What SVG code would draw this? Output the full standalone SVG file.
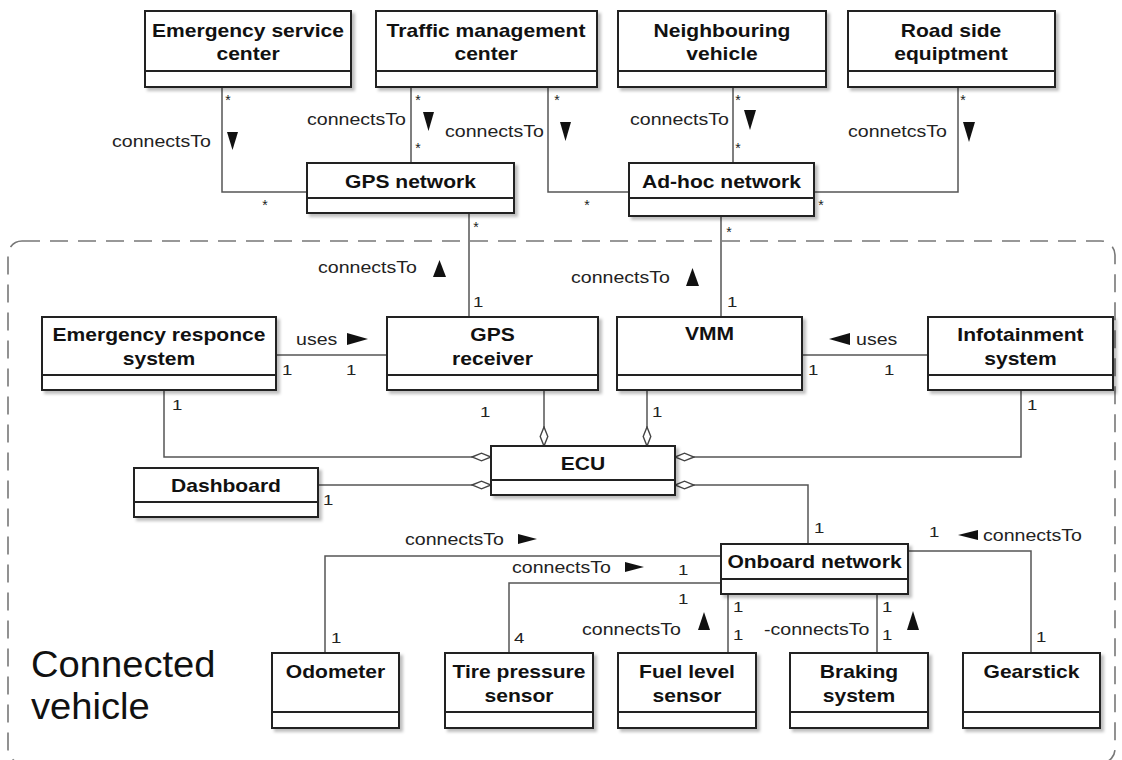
<svg xmlns="http://www.w3.org/2000/svg" width="1122" height="760" viewBox="0 0 1122 760">
  <defs>
    <filter id="sh" x="-5%" y="-5%" width="115%" height="130%">
      <feDropShadow dx="3" dy="3" stdDeviation="1.5" flood-color="#000" flood-opacity="0.25"/>
    </filter>
    <!-- hollow aggregation diamond, tip on the whole side -->
    <marker id="agg" markerUnits="userSpaceOnUse" viewBox="0 0 22 10" markerWidth="22" markerHeight="10" refX="20" refY="5" orient="auto">
      <path d="M1,5 L10.5,1.2 L20,5 L10.5,8.8 Z" fill="#fff" stroke="#444" stroke-width="1.4"/>
    </marker>
    <style>
      .node rect { fill: #fff; stroke: #222; stroke-width: 2; filter: url(#sh); }
      .node line { stroke: #222; stroke-width: 2; }
      .nm { font-family: "Liberation Sans", Arial, sans-serif; font-weight: bold; font-size: 18px; text-anchor: middle; fill: #111; }
      .wire { fill: none; stroke: #555; stroke-width: 1.5; }
      .agg { marker-end: url(#agg); }
      .lbl { font-family: "Liberation Sans", Arial, sans-serif; font-size: 16.3px; fill: #222; }
      .mul { font-family: "Liberation Sans", Arial, sans-serif; font-size: 15.5px; fill: #222; }
      .star { font-family: "Liberation Sans", Arial, sans-serif; font-size: 14px; fill: #222; text-anchor: middle; }
      .dir { fill: #111; }
      .frame { fill: none; stroke: #777; stroke-width: 1.6; stroke-dasharray: 18 10; }
      .big { font-family: "Liberation Sans", Arial, sans-serif; font-size: 36px; fill: #111; }
    </style>
  </defs>

  <rect width="1122" height="760" fill="#fff"/>

  <!-- package frame: connected vehicle -->
  <g id="connected-vehicle">
    <rect class="frame" x="8" y="241" width="1107" height="522" rx="14"/>
    <text class="big" transform="translate(31 677) scale(1.06 1)">Connected</text>
    <text class="big" transform="translate(31 719) scale(1.06 1)">vehicle</text>
  </g>

  <!-- connectors -->
  <g id="connectors">
    <path class="wire" d="M222,87 V192 H307"/>
    <path class="wire" d="M411,87 V163"/>
    <path class="wire" d="M548,87 V192 H629"/>
    <path class="wire" d="M733,87 V163"/>
    <path class="wire" d="M958,87 V192 H814"/>
    <path class="wire" d="M469,213 V317"/>
    <path class="wire" d="M721,216 V317"/>
    <path class="wire" d="M276,355 H387"/>
    <path class="wire" d="M802,355 H928"/>
    <path class="wire agg" d="M164,390 V457 H491"/>
    <path class="wire agg" d="M544,390 V446"/>
    <path class="wire agg" d="M647,390 V446"/>
    <path class="wire agg" d="M1021,390 V457 H675"/>
    <path class="wire agg" d="M318,485 H491"/>
    <path class="wire agg" d="M808,544 V485 H675"/>
    <path class="wire" d="M721,556 H325 V653"/>
    <path class="wire" d="M721,583 H509 V653"/>
    <path class="wire" d="M728,594 V653"/>
    <path class="wire" d="M877,594 V653"/>
    <path class="wire" d="M908,551 H1031 V653"/>

    <!-- association names -->
    <g id="assoc-names">
      <text class="lbl" transform="translate(112 147) scale(1.2 1)">connectsTo</text>
      <text class="lbl" transform="translate(307 125) scale(1.2 1)">connectsTo</text>
      <text class="lbl" transform="translate(445 137) scale(1.2 1)">connectsTo</text>
      <text class="lbl" transform="translate(630 125) scale(1.2 1)">connectsTo</text>
      <text class="lbl" transform="translate(848 137) scale(1.2 1)">connetcsTo</text>
      <text class="lbl" transform="translate(318 273) scale(1.2 1)">connectsTo</text>
      <text class="lbl" transform="translate(571 283) scale(1.2 1)">connectsTo</text>
      <text class="lbl" transform="translate(296 345) scale(1.2 1)">uses</text>
      <text class="lbl" transform="translate(856 345) scale(1.2 1)">uses</text>
      <text class="lbl" transform="translate(405 545) scale(1.2 1)">connectsTo</text>
      <text class="lbl" transform="translate(512 573) scale(1.2 1)">connectsTo</text>
      <text class="lbl" transform="translate(582 635) scale(1.2 1)">connectsTo</text>
      <text class="lbl" transform="translate(764 635) scale(1.2 1)">-connectsTo</text>
      <text class="lbl" transform="translate(983 541) scale(1.2 1)">connectsTo</text>
    </g>

    <!-- reading-direction triangles -->
    <g id="directions" class="dir">
      <polygon points="227,132 238,132 232.5,150"/>
      <polygon points="423,112 434,112 428.5,131"/>
      <polygon points="560,122 571,122 565.5,141"/>
      <polygon points="744,110 756,110 750,130"/>
      <polygon points="963,122 975,122 969,142"/>
      <polygon points="433,277 446,277 439.5,260"/>
      <polygon points="686,286 699,286 692.5,268"/>
      <polygon points="347,333 368,339 347,345"/>
      <polygon points="850,333 829,339 850,345"/>
      <polygon points="518,534 537,539 518,544"/>
      <polygon points="625,562 644,567 625,572"/>
      <polygon points="698,630 710,630 704,612"/>
      <polygon points="907,630 919,630 913,611"/>
      <polygon points="978,530 958,535 978,540"/>
    </g>

    <!-- multiplicities -->
    <g id="multiplicities">
      <text class="star" x="228" y="105">*</text>
      <text class="star" x="265" y="210">*</text>
      <text class="star" x="418" y="105">*</text>
      <text class="star" x="418" y="153">*</text>
      <text class="star" x="557" y="105">*</text>
      <text class="star" x="587" y="210">*</text>
      <text class="star" x="738" y="105">*</text>
      <text class="star" x="738" y="153">*</text>
      <text class="star" x="963" y="105">*</text>
      <text class="star" x="821" y="210">*</text>
      <text class="star" x="476" y="232">*</text>
      <text class="star" x="729" y="237">*</text>

      <text class="mul" transform="translate(282 375) scale(1.2 1)">1</text>
      <text class="mul" transform="translate(346 375) scale(1.2 1)">1</text>
      <text class="mul" transform="translate(473 307) scale(1.2 1)">1</text>
      <text class="mul" transform="translate(727 307) scale(1.2 1)">1</text>
      <text class="mul" transform="translate(808 375) scale(1.2 1)">1</text>
      <text class="mul" transform="translate(884 375) scale(1.2 1)">1</text>
      <text class="mul" transform="translate(172 410) scale(1.2 1)">1</text>
      <text class="mul" transform="translate(480 417) scale(1.2 1)">1</text>
      <text class="mul" transform="translate(652 417) scale(1.2 1)">1</text>
      <text class="mul" transform="translate(1027 410) scale(1.2 1)">1</text>
      <text class="mul" transform="translate(323 505) scale(1.2 1)">1</text>
      <text class="mul" transform="translate(814 533) scale(1.2 1)">1</text>
      <text class="mul" transform="translate(929 537) scale(1.2 1)">1</text>
      <text class="mul" transform="translate(678 575) scale(1.2 1)">1</text>
      <text class="mul" transform="translate(678 604) scale(1.2 1)">1</text>
      <text class="mul" transform="translate(733 612) scale(1.2 1)">1</text>
      <text class="mul" transform="translate(733 640) scale(1.2 1)">1</text>
      <text class="mul" transform="translate(882 612) scale(1.2 1)">1</text>
      <text class="mul" transform="translate(882 640) scale(1.2 1)">1</text>
      <text class="mul" transform="translate(331 643) scale(1.2 1)">1</text>
      <text class="mul" transform="translate(514 643) scale(1.2 1)">4</text>
      <text class="mul" transform="translate(1036 642) scale(1.2 1)">1</text>
    </g>
  </g>

  <!-- external actors -->
  <g id="emergency-service-center" class="node">
    <rect x="145" y="11" width="206" height="76"/>
    <line x1="145" y1="71" x2="351" y2="71"/>
    <text class="nm" transform="translate(248 37) scale(1.17 1)">Emergency service</text>
    <text class="nm" transform="translate(248 60) scale(1.17 1)">center</text>
  </g>
  <g id="traffic-management-center" class="node">
    <rect x="376" y="11" width="221" height="76"/>
    <line x1="376" y1="71" x2="597" y2="71"/>
    <text class="nm" transform="translate(486 37) scale(1.17 1)">Traffic management</text>
    <text class="nm" transform="translate(486 60) scale(1.17 1)">center</text>
  </g>
  <g id="neighbouring-vehicle" class="node">
    <rect x="618" y="11" width="208" height="76"/>
    <line x1="618" y1="71" x2="826" y2="71"/>
    <text class="nm" transform="translate(722 37) scale(1.17 1)">Neighbouring</text>
    <text class="nm" transform="translate(722 60) scale(1.17 1)">vehicle</text>
  </g>
  <g id="road-side-equipment" class="node">
    <rect x="848" y="11" width="207" height="76"/>
    <line x1="848" y1="71" x2="1055" y2="71"/>
    <text class="nm" transform="translate(951 37) scale(1.17 1)">Road side</text>
    <text class="nm" transform="translate(951 60) scale(1.17 1)">equiptment</text>
  </g>
  <g id="gps-network" class="node">
    <rect x="307" y="163" width="207" height="50"/>
    <line x1="307" y1="198" x2="514" y2="198"/>
    <text class="nm" transform="translate(410.5 188) scale(1.17 1)">GPS network</text>
  </g>
  <g id="ad-hoc-network" class="node">
    <rect x="629" y="163" width="185" height="53"/>
    <line x1="629" y1="198" x2="814" y2="198"/>
    <text class="nm" transform="translate(721.5 188) scale(1.17 1)">Ad-hoc network</text>
  </g>

  <!-- in-vehicle components -->
  <g id="emergency-responce-system" class="node">
    <rect x="42" y="317" width="234" height="73"/>
    <line x1="42" y1="375" x2="276" y2="375"/>
    <text class="nm" transform="translate(159 341) scale(1.17 1)">Emergency responce</text>
    <text class="nm" transform="translate(159 365) scale(1.17 1)">system</text>
  </g>
  <g id="gps-receiver" class="node">
    <rect x="387" y="317" width="211" height="73"/>
    <line x1="387" y1="375" x2="598" y2="375"/>
    <text class="nm" transform="translate(492.5 341) scale(1.17 1)">GPS</text>
    <text class="nm" transform="translate(492.5 365) scale(1.17 1)">receiver</text>
  </g>
  <g id="vmm" class="node">
    <rect x="617" y="317" width="185" height="73"/>
    <line x1="617" y1="375" x2="802" y2="375"/>
    <text class="nm" transform="translate(709.5 340) scale(1.17 1)">VMM</text>
  </g>
  <g id="infotainment-system" class="node">
    <rect x="928" y="317" width="185" height="73"/>
    <line x1="928" y1="375" x2="1113" y2="375"/>
    <text class="nm" transform="translate(1020.5 341) scale(1.17 1)">Infotainment</text>
    <text class="nm" transform="translate(1020.5 365) scale(1.17 1)">system</text>
  </g>
  <g id="ecu" class="node">
    <rect x="491" y="446" width="184" height="49"/>
    <line x1="491" y1="480" x2="675" y2="480"/>
    <text class="nm" transform="translate(583 470) scale(1.17 1)">ECU</text>
  </g>
  <g id="dashboard" class="node">
    <rect x="134" y="468" width="184" height="49"/>
    <line x1="134" y1="502" x2="318" y2="502"/>
    <text class="nm" transform="translate(226 492) scale(1.17 1)">Dashboard</text>
  </g>
  <g id="onboard-network" class="node">
    <rect x="721" y="544" width="187" height="50"/>
    <line x1="721" y1="579" x2="908" y2="579"/>
    <text class="nm" transform="translate(814.5 568) scale(1.17 1)">Onboard network</text>
  </g>
  <g id="odometer" class="node">
    <rect x="272" y="653" width="127" height="75"/>
    <line x1="272" y1="712" x2="399" y2="712"/>
    <text class="nm" transform="translate(335.5 678) scale(1.17 1)">Odometer</text>
  </g>
  <g id="tire-pressure-sensor" class="node">
    <rect x="445" y="653" width="148" height="75"/>
    <line x1="445" y1="712" x2="593" y2="712"/>
    <text class="nm" transform="translate(519 678) scale(1.17 1)">Tire pressure</text>
    <text class="nm" transform="translate(519 702) scale(1.17 1)">sensor</text>
  </g>
  <g id="fuel-level-sensor" class="node">
    <rect x="618" y="653" width="138" height="75"/>
    <line x1="618" y1="712" x2="756" y2="712"/>
    <text class="nm" transform="translate(687 678) scale(1.17 1)">Fuel level</text>
    <text class="nm" transform="translate(687 702) scale(1.17 1)">sensor</text>
  </g>
  <g id="braking-system" class="node">
    <rect x="790" y="653" width="138" height="75"/>
    <line x1="790" y1="712" x2="928" y2="712"/>
    <text class="nm" transform="translate(859 678) scale(1.17 1)">Braking</text>
    <text class="nm" transform="translate(859 702) scale(1.17 1)">system</text>
  </g>
  <g id="gearstick" class="node">
    <rect x="963" y="653" width="137" height="75"/>
    <line x1="963" y1="712" x2="1100" y2="712"/>
    <text class="nm" transform="translate(1031.5 678) scale(1.17 1)">Gearstick</text>
  </g>
</svg>
